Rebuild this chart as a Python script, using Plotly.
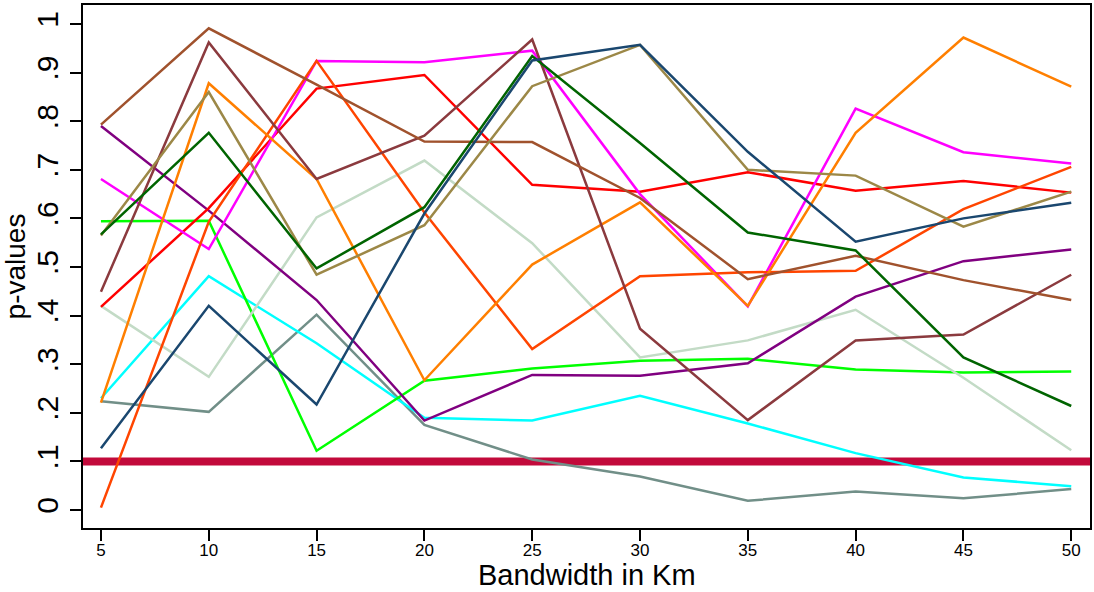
import plotly.graph_objects as go

# Bandwidth grid (km)
bandwidth = [5, 10, 15, 20, 25, 30, 35, 40, 45, 50]

# p-values by specification
navy = [0.127, 0.42, 0.217, 0.61, 0.925, 0.957, 0.737, 0.552, 0.60, 0.632]
dkgreen = [0.567, 0.776, 0.497, 0.623, 0.934, 0.755, 0.571, 0.534, 0.314, 0.214]
khaki = [0.565, 0.86, 0.484, 0.586, 0.872, 0.957, 0.70, 0.688, 0.583, 0.655]
sienna = [0.793, 0.991, 0.875, 0.758, 0.757, 0.642, 0.475, 0.523, 0.473, 0.432]
maroon = [0.449, 0.962, 0.681, 0.77, 0.968, 0.373, 0.185, 0.349, 0.361, 0.484]
orange = [0.221, 0.878, 0.681, 0.267, 0.505, 0.633, 0.42, 0.776, 0.972, 0.871]
orange_red = [0.005, 0.593, 0.924, 0.612, 0.331, 0.481, 0.489, 0.492, 0.619, 0.706]
magenta = [0.681, 0.537, 0.924, 0.921, 0.945, 0.65, 0.419, 0.826, 0.736, 0.713]
red = [0.418, 0.621, 0.867, 0.895, 0.669, 0.655, 0.695, 0.657, 0.677, 0.653]
purple = [0.79, 0.616, 0.432, 0.184, 0.278, 0.276, 0.302, 0.439, 0.512, 0.536]
sage = [0.42, 0.274, 0.602, 0.719, 0.549, 0.314, 0.349, 0.412, 0.272, 0.123]
lime = [0.594, 0.595, 0.122, 0.266, 0.291, 0.307, 0.311, 0.289, 0.283, 0.285]
cyan = [0.23, 0.481, 0.343, 0.19, 0.184, 0.235, 0.178, 0.117, 0.067, 0.049]
gray = [0.224, 0.202, 0.402, 0.175, 0.104, 0.069, 0.019, 0.038, 0.024, 0.043]

# Significance threshold
threshold = 0.1

# Axis ticks
y_tickvals = [0, 0.1, 0.2, 0.3, 0.4, 0.5, 0.6, 0.7, 0.8, 0.9, 1]
y_ticktext = ["0", ".1", ".2", ".3", ".4", ".5", ".6", ".7", ".8", ".9", "1"]

series = [
    (gray, "#718f88"),
    (cyan, "#00ffff"),
    (lime, "#00ff00"),
    (sage, "#c3dbc6"),
    (purple, "#800080"),
    (red, "#ff0000"),
    (magenta, "#ff00ff"),
    (orange_red, "#ff4500"),
    (orange, "#ff7f00"),
    (maroon, "#8b3a3e"),
    (sienna, "#a0522d"),
    (khaki, "#9c8847"),
    (dkgreen, "#006400"),
    (navy, "#1a476f"),
]

fig = go.Figure()
for values, color in series:
    fig.add_trace(go.Scatter(
        x=bandwidth, y=values, mode="lines",
        line=dict(color=color, width=2.5),
        showlegend=False, hoverinfo="skip",
    ))

fig.add_shape(
    type="line", xref="paper", x0=0, x1=1, yref="y", y0=threshold, y1=threshold,
    line=dict(color="#c20a3b", width=8), layer="below",
)

font_family = "Liberation Sans, Arial, sans-serif"

# x-axis title placed just beneath the tick labels
fig.add_annotation(
    text="Bandwidth in Km", xref="paper", yref="paper", x=0.5, y=-0.09,
    xanchor="center", yanchor="middle", showarrow=False,
    font=dict(size=29, family=font_family, color="black"),
)

fig.update_layout(
    width=1094, height=592,
    margin=dict(l=83, r=2, t=5, b=64),
    paper_bgcolor="white", plot_bgcolor="white",
    font=dict(family=font_family, color="black"),
    xaxis=dict(
        range=[4.167, 50.87],
        tickvals=bandwidth,
        ticks="outside", ticklen=11, tickwidth=1.5, tickcolor="black",
        tickfont=dict(size=17),
        ticklabelstandoff=-5,
        showgrid=False, zeroline=False,
        showline=True, linecolor="black", linewidth=2, mirror=True,
    ),
    yaxis=dict(
        range=[-0.037, 1.039],
        tickvals=y_tickvals, ticktext=y_ticktext,
        tickangle=-90,
        ticks="outside", ticklen=11, tickwidth=1.5, tickcolor="black",
        tickfont=dict(size=30),
        showgrid=False, zeroline=False,
        showline=True, linecolor="black", linewidth=2, mirror=True,
        title=dict(text="p-values", font=dict(size=28), standoff=0),
    ),
)

fig.write_html("out.html")
